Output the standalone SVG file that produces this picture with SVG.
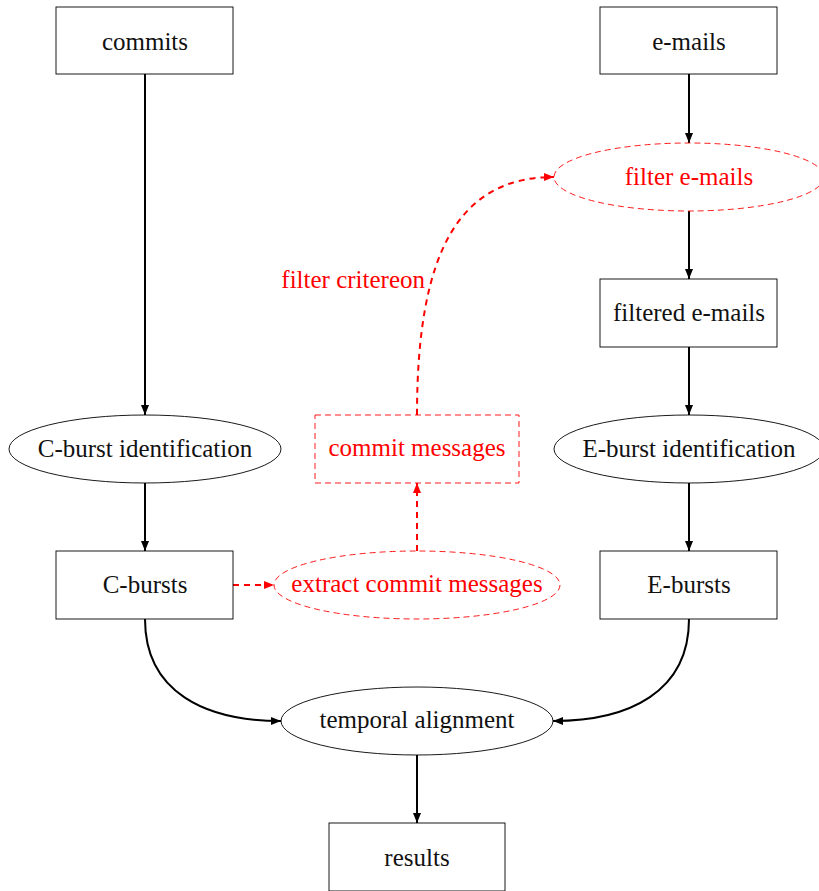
<svg xmlns="http://www.w3.org/2000/svg" width="819" height="891" viewBox="0 0 819 891">
<style>
text{font-family:"Liberation Serif","DejaVu Serif",serif;font-size:25px;text-anchor:middle;fill:#111}
.red text, text.red{fill:#ff0000}
.box{fill:#fff;stroke:#000;stroke-width:0.9}
.dbox{fill:#fff;stroke:#ff0000;stroke-width:0.9;stroke-dasharray:6,4}
.arr{fill:none;stroke:#000;stroke-width:2}
.rarr{fill:none;stroke:#ff0000;stroke-width:2;stroke-dasharray:6,5}
</style>
<defs>
<marker id="ah" markerWidth="10" markerHeight="8" refX="10" refY="4" orient="auto" markerUnits="userSpaceOnUse"><path d="M0,0 L10,4 L0,8 z" fill="#000"/></marker>
<marker id="rah" markerWidth="10" markerHeight="8" refX="10" refY="4" orient="auto" markerUnits="userSpaceOnUse"><path d="M0,0 L10,4 L0,8 z" fill="#ff0000"/></marker>
</defs>
<rect width="819" height="891" fill="#fff"/>
<g id="connectors">
<path class="arr" d="M145,74 V415" marker-end="url(#ah)"/>
<path class="arr" d="M689,74 V143" marker-end="url(#ah)"/>
<path class="arr" d="M689,211 V279" marker-end="url(#ah)"/>
<path class="arr" d="M689,347 V415" marker-end="url(#ah)"/>
<path class="arr" d="M145,483 V551" marker-end="url(#ah)"/>
<path class="arr" d="M689,483 V551" marker-end="url(#ah)"/>
<path class="arr" d="M145,619 C145,692 205,721 281,721" marker-end="url(#ah)"/>
<path class="arr" d="M689,619 C689,692 629,721 553,721" marker-end="url(#ah)"/>
<path class="arr" d="M417,755 V823" marker-end="url(#ah)"/>
<path class="rarr" d="M233,585 H274" marker-end="url(#rah)"/>
<path class="rarr" d="M417,551 V483" marker-end="url(#rah)"/>
<path class="rarr" d="M417,415 C417,250 460,177 554,177" marker-end="url(#rah)"/>
<text class="red" x="425" y="288" style="text-anchor:end">filter critereon</text>
</g>
<g id="commits"><rect class="box" x="56" y="7" width="177" height="67"/><text x="145" y="50">commits</text></g>
<g id="emails"><rect class="box" x="600" y="7" width="177" height="67"/><text x="689" y="50">e-mails</text></g>
<g id="filter-emails" class="red"><ellipse class="dbox" cx="689" cy="177" rx="135" ry="34"/><text x="689" y="185">filter e-mails</text></g>
<g id="filtered-emails"><rect class="box" x="600" y="279" width="177" height="68"/><text x="689" y="321">filtered e-mails</text></g>
<g id="cburst-id"><ellipse class="box" cx="145" cy="449" rx="136" ry="34"/><text x="145" y="457">C-burst identification</text></g>
<g id="commit-messages" class="red"><rect class="dbox" x="315" y="415" width="204" height="68"/><text x="417" y="456">commit messages</text></g>
<g id="eburst-id"><ellipse class="box" cx="689" cy="449" rx="135" ry="34"/><text x="689" y="457">E-burst identification</text></g>
<g id="cbursts"><rect class="box" x="56" y="551" width="177" height="68"/><text x="145" y="593">C-bursts</text></g>
<g id="extract" class="red"><ellipse class="dbox" cx="417" cy="585" rx="143" ry="34"/><text x="417" y="592">extract commit messages</text></g>
<g id="ebursts"><rect class="box" x="600" y="551" width="177" height="68"/><text x="689" y="593">E-bursts</text></g>
<g id="temporal"><ellipse class="box" cx="417" cy="721" rx="136" ry="34"/><text x="417" y="728">temporal alignment</text></g>
<g id="results"><rect class="box" x="329" y="823" width="176" height="68"/><text x="417" y="866">results</text></g>
</svg>
